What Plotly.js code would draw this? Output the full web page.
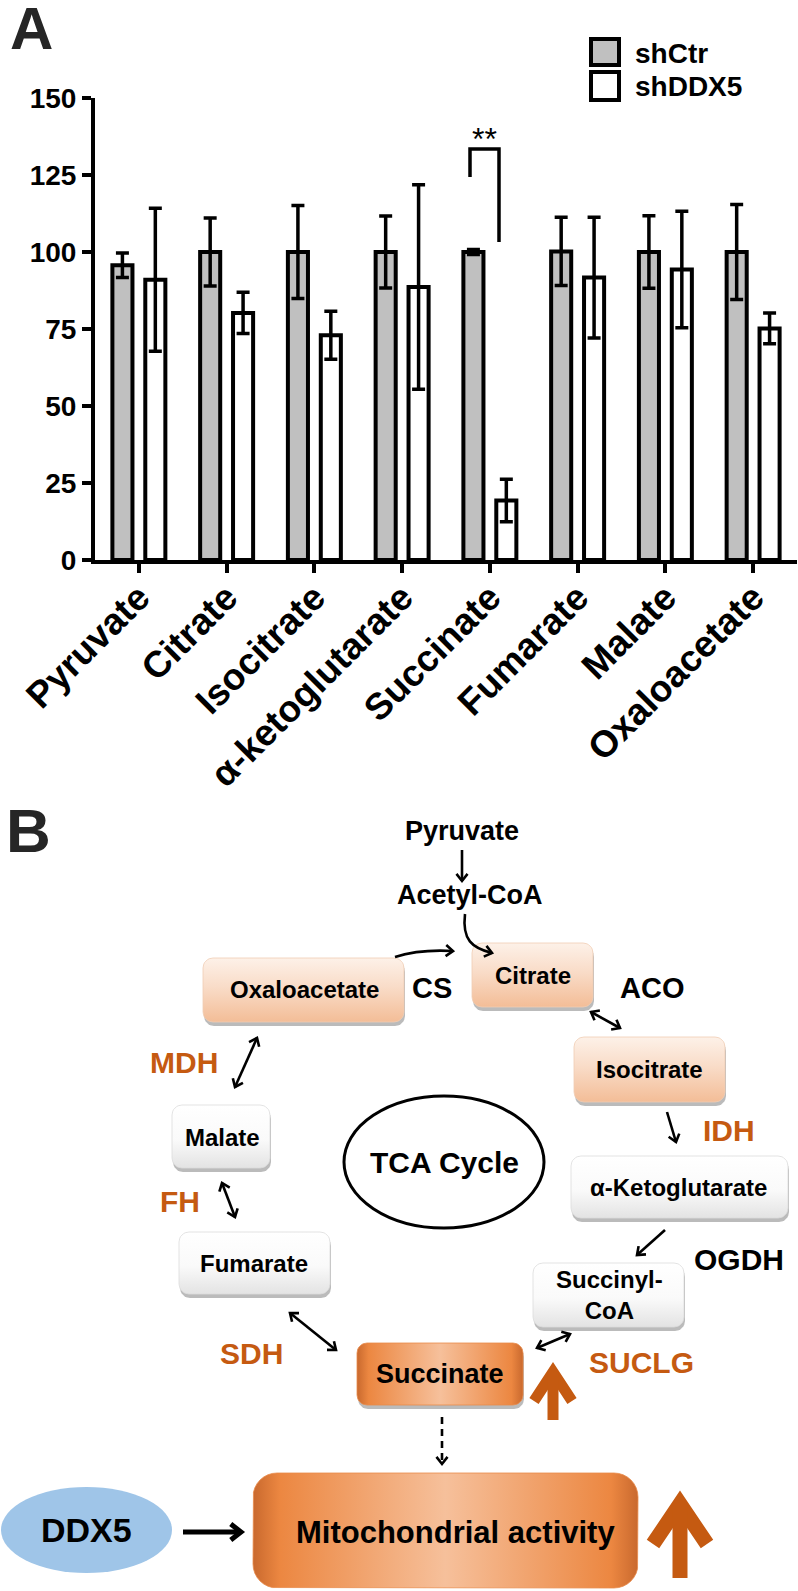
<!DOCTYPE html>
<html>
<head>
<meta charset="utf-8">
<script src="https://cdn.plot.ly/plotly-3.0.1.min.js"></script>
<style>
  html, body { margin: 0; padding: 0; background: #fff; }
  #fig { width: 798px; height: 1591px; }
</style>
</head>
<body>
<div id="fig"></div>
<script>
// ---- panel A data ----
const categories = ['Pyruvate', 'Citrate', 'Isocitrate', 'α-ketoglutarate', 'Succinate', 'Fumarate', 'Malate', 'Oxaloacetate'];
const shCtr = [95.7, 100, 100, 100, 100, 100.2, 100, 100];
const shCtrErr = [4, 11, 15.1, 11.7, 0.8, 11.1, 11.8, 15.4];
const shDDX5 = [91, 80.2, 73, 88.6, 19.3, 91.7, 94.3, 75.2];
const shDDX5Err = [23.2, 6.7, 7.8, 33.2, 6.9, 19.6, 18.9, 5];
const seriesNames = ['shCtr', 'shDDX5'];
const yTicks = [0, 25, 50, 75, 100, 125, 150];

const FONT = 'Liberation Sans, Arial, Helvetica, sans-serif';
const ORANGE = '#c55a11';
const W = 798, H = 1591;

/* pixel layer helpers: x2 / y2 span the whole page in pixels */
const shapes = [];
const notes = [];

function label(text, x, y, size, color, extra) {
  notes.push(Object.assign({
    text: text, x: x, y: y, xref: 'x2', yref: 'y2', showarrow: false,
    xanchor: 'center', yanchor: 'middle',
    font: { family: FONT, size: size, color: color || '#000', weight: 'bold' }
  }, extra || {}));
}

function head(tx, ty, dx, dy, len, color, width) {
  const n = Math.hypot(dx, dy), ux = dx / n, uy = dy / n;
  const a = 38 * Math.PI / 180;
  const p = [];
  [a, -a].forEach(t => {
    const rx = ux * Math.cos(t) - uy * Math.sin(t);
    const ry = ux * Math.sin(t) + uy * Math.cos(t);
    p.push([tx - rx * len, ty - ry * len]);
  });
  shapes.push({
    type: 'path', xref: 'x2', yref: 'y2',
    path: `M${p[0][0]},${p[0][1]} L${tx},${ty} L${p[1][0]},${p[1][1]}`,
    line: { color: color, width: width }
  });
}

function arrow(x0, y0, x1, y1, opt) {
  opt = opt || {};
  const c = opt.color || '#000', w = opt.width || 2.6, L = opt.len || 9;
  shapes.push({ type: 'line', xref: 'x2', yref: 'y2', x0: x0, y0: y0, x1: x1, y1: y1,
    line: { color: c, width: w, dash: opt.dash || 'solid' } });
  head(x1, y1, x1 - x0, y1 - y0, L, c, w);
  if (opt.both) head(x0, y0, x0 - x1, y0 - y1, L, c, w);
}

function curve(path, tx, ty, dx, dy) {
  shapes.push({ type: 'path', xref: 'x2', yref: 'y2', path: path, line: { color: '#000', width: 2.6 } });
  head(tx, ty, dx, dy, 9, '#000', 2.6);
}

function bigUp(cx, tip, bottom, hw, hh, sw) {
  shapes.push({ type: 'path', xref: 'x2', yref: 'y2',
    path: `M${cx - hw},${tip + hh} L${cx},${tip} L${cx + hw},${tip + hh}`,
    line: { color: ORANGE, width: sw } });
  shapes.push({ type: 'line', xref: 'x2', yref: 'y2', x0: cx, y0: tip, x1: cx, y1: bottom,
    line: { color: ORANGE, width: sw } });
}

function roundRect(x0, y0, x1, y1, r) {
  const xs = [], ys = [];
  const corners = [[x1 - r, y0 + r, -90], [x1 - r, y1 - r, 0], [x0 + r, y1 - r, 90], [x0 + r, y0 + r, 180]];
  corners.forEach(([cx, cy, s]) => {
    for (let k = 0; k <= 8; k++) {
      const t = (s + k * 90 / 8) * Math.PI / 180;
      xs.push(cx + r * Math.cos(t));
      ys.push(cy + r * Math.sin(t));
    }
  });
  xs.push(xs[0]); ys.push(ys[0]);
  return { xs, ys };
}

const STYLES = {
  peach: { type: 'vertical', scale: [[0, '#fdf1e8'], [0.45, '#f9dcc8'], [1, '#f3bd97']], line: '#f0cdb4' },
  white: { type: 'vertical', scale: [[0, '#ffffff'], [0.55, '#fafafa'], [1, '#e3e3e3']], line: '#dcdcdc' },
  orange: { type: 'horizontal', scale: [[0, '#c9692e'], [0.07, '#ec8741'], [0.5, '#f6c09b'], [0.93, '#ec8741'], [1, '#c9692e']], line: '#e98a4a' }
};

const boxTraces = [];
function box(x0, y0, x1, y1, style, r) {
  const st = STYLES[style];
  if (style !== 'orange' || r < 15) {
    const s = roundRect(x0 + 1, y0 + 4, x1 + 1, y1 + 4, r);
    boxTraces.push({ type: 'scatter', xaxis: 'x2', yaxis: 'y2', x: s.xs, y: s.ys, mode: 'lines',
      fill: 'toself', fillcolor: 'rgba(60,60,60,0.35)', line: { width: 0 }, hoverinfo: 'skip', showlegend: false });
  }
  const p = roundRect(x0, y0, x1, y1, r);
  const horiz = st.type === 'horizontal';
  boxTraces.push({ type: 'scatter', xaxis: 'x2', yaxis: 'y2', x: p.xs, y: p.ys, mode: 'lines',
    fill: 'toself', fillcolor: st.scale[Math.floor(st.scale.length / 2)][1],
    fillgradient: { type: st.type, colorscale: st.scale, start: horiz ? x0 : y0, stop: horiz ? x1 : y1 },
    line: { width: 0.8, color: st.line }, hoverinfo: 'skip', showlegend: false });
}

// ---- panel B diagram ----
box(203, 958, 404, 1022, 'peach', 10);
box(472, 943, 593, 1007, 'peach', 10);
box(574, 1037, 725, 1102, 'peach', 10);
box(571, 1156, 788, 1218, 'white', 10);
box(533, 1263, 684, 1327, 'white', 10);
box(179, 1232, 330, 1294, 'white', 10);
box(172, 1105, 270, 1168, 'white', 10);
box(357, 1343, 523, 1405, 'orange', 10);
box(253, 1473, 638, 1588, 'orange', 24);

shapes.push({ type: 'circle', xref: 'x2', yref: 'y2', x0: 344, y0: 1096, x1: 544, y1: 1228,
  fillcolor: '#fff', line: { color: '#000', width: 3 } });
shapes.push({ type: 'circle', xref: 'x2', yref: 'y2', x0: 1, y0: 1487, x1: 172, y1: 1573,
  fillcolor: '#9fc5e8', line: { width: 0 } });

arrow(462, 850, 462, 881);
curve('M465,914 C462,940 472,948 492,953', 492, 953, 20, 5);
curve('M395,957 Q420,949 453,951', 453, 951, 32, 2);
arrow(591, 1012, 620, 1028, { both: true });
arrow(667, 1112, 676, 1142);
arrow(665, 1230, 637, 1255);
arrow(570, 1334, 537, 1348, { both: true });
arrow(336, 1350, 290, 1313, { both: true });
arrow(222, 1183, 235, 1217, { both: true });
arrow(235, 1087, 257, 1038, { both: true });
arrow(442, 1417, 442, 1464, { dash: '7px,5px', width: 2.6 });
arrow(183, 1532, 241, 1532, { width: 5, len: 13 });
bigUp(553, 1372, 1420, 19, 29, 11);
bigUp(680, 1504, 1578, 27, 40, 15);

label('Pyruvate', 462, 831, 27);
label('Acetyl-CoA', 470, 895, 27);
label('Oxaloacetate', 304, 989, 24);
label('Citrate', 533, 975, 24);
label('Isocitrate', 649, 1069, 24);
label('α-Ketoglutarate', 678, 1187, 24);
label('Succinyl-<br>CoA', 609, 1295, 24);
label('Succinate', 440, 1374, 27);
label('Fumarate', 254, 1263, 24);
label('Malate', 222, 1137, 24);
label('Mitochondrial activity', 455, 1532, 31);
label('DDX5', 86, 1530, 34);
label('TCA Cycle', 444, 1162, 30);
label('CS', 432, 988, 29);
label('ACO', 652, 988, 29);
label('OGDH', 739, 1259, 30);
label('MDH', 184, 1062, 30, ORANGE);
label('IDH', 729, 1130, 30, ORANGE);
label('FH', 180, 1201, 30, ORANGE);
label('SDH', 251, 1353, 30, ORANGE);
label('SUCLG', 641, 1362, 30, ORANGE);

// panel letters
label('A', 31, 28, 60, '#262626');
label('B', 28, 830, 62, '#262626');

// ---- panel A extras: legend, significance bracket ----
shapes.push({ type: 'rect', xref: 'x2', yref: 'y2', x0: 591, y0: 39, x1: 619, y1: 65,
  fillcolor: '#c0c0c0', line: { color: '#000', width: 4 } });
shapes.push({ type: 'rect', xref: 'x2', yref: 'y2', x0: 591, y0: 72, x1: 619, y1: 100,
  fillcolor: '#fff', line: { color: '#000', width: 4 } });
label(seriesNames[0], 633, 53, 28, '#000', { xanchor: 'left' });
label(seriesNames[1], 633, 86, 28, '#000', { xanchor: 'left' });
shapes.push({ type: 'path', xref: 'x2', yref: 'y2', path: 'M470,177 L470,149 L499,149 L499,242',
  line: { color: '#000', width: 3.5 } });
notes.push({ text: '**', x: 484, y: 139, xref: 'x2', yref: 'y2', showarrow: false,
  font: { family: FONT, size: 32, color: '#000' } });

// ---- bar traces ----
const barTraces = [
  { type: 'bar', name: seriesNames[0], x: categories, y: shCtr,
    marker: { color: '#c0c0c0', line: { color: '#000', width: 4 } },
    error_y: { type: 'data', array: shCtrErr, color: '#000', thickness: 3.5, width: 6.5 } },
  { type: 'bar', name: seriesNames[1], x: categories, y: shDDX5,
    marker: { color: '#ffffff', line: { color: '#000', width: 4 } },
    error_y: { type: 'data', array: shDDX5Err, color: '#000', thickness: 3.5, width: 6.5 } }
];

const layout = {
  width: W, height: H,
  margin: { l: 0, r: 0, t: 0, b: 0 },
  paper_bgcolor: '#fff', plot_bgcolor: 'rgba(0,0,0,0)',
  showlegend: false,
  barmode: 'group', bargap: 0.25, bargroupgap: 0.39,
  font: { family: FONT, color: '#000' },
  xaxis: {
    domain: [95 / W, 797 / W], range: [-0.5, 7.5], type: 'category',
    showline: true, linecolor: '#000', linewidth: 4, showgrid: false, zeroline: false,
    ticks: 'outside', ticklen: 9, tickwidth: 4, tickcolor: '#000', ticklabelstandoff: -12,
    tickangle: -45, tickfont: { family: FONT, size: 37, color: '#000', weight: 'bold' }
  },
  yaxis: {
    domain: [1 - 560 / H, 1 - 98 / H], range: [0, 150], tickvals: yTicks,
    showline: true, linecolor: '#000', linewidth: 4, showgrid: false, zeroline: false,
    ticks: 'outside', ticklen: 9, tickwidth: 4, tickcolor: '#000',
    tickfont: { family: FONT, size: 28, color: '#000', weight: 'bold' }
  },
  xaxis2: { domain: [0, 1], range: [0, W], anchor: 'y2', visible: false, fixedrange: true },
  yaxis2: { domain: [0, 1], range: [H, 0], anchor: 'x2', visible: false, fixedrange: true },
  shapes: shapes,
  annotations: notes
};

Plotly.newPlot('fig', barTraces.concat(boxTraces), layout, { displayModeBar: false, staticPlot: true });
</script>
</body>
</html>
